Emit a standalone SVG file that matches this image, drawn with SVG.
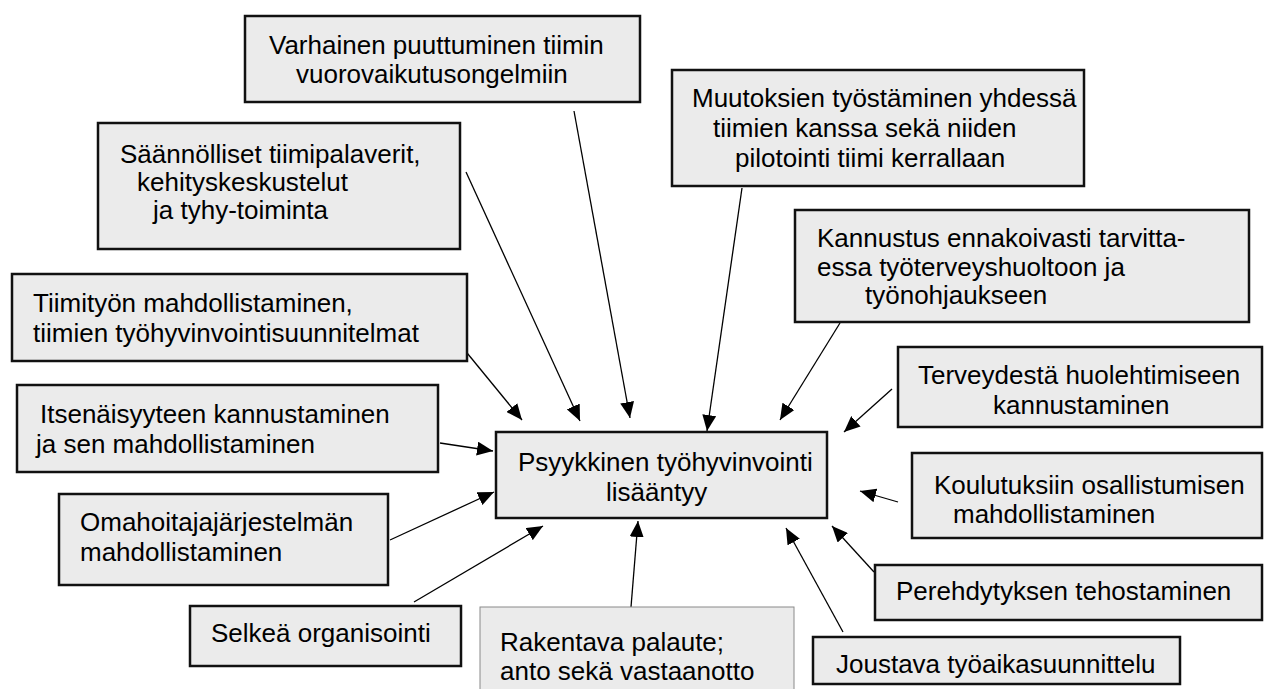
<svg xmlns="http://www.w3.org/2000/svg" width="1264" height="689" viewBox="0 0 1264 689">
  <style>
    .box { fill: #ebebeb; stroke: #111; stroke-width: 2.5; }
    .box-thin { fill: #ebebeb; stroke: #8a8a8a; stroke-width: 1; }
    .lbl { font-family: "Liberation Sans", Arial, sans-serif; font-size: 26px; fill: #000; }
    .edge { stroke: #000; stroke-width: 1.3; fill: none; marker-end: url(#head); }
  </style>
  <defs>
    <marker id="head" markerUnits="userSpaceOnUse" markerWidth="17" markerHeight="14" refX="16" refY="7" orient="auto">
      <path d="M0,0 L16,7 L0,14 z" fill="#000"/>
    </marker>
  </defs>
  <rect width="1264" height="689" fill="#fff"/>

  <!-- connectors: every factor points to the central outcome box -->
  <g id="connectors">
    <line class="edge" x1="574" y1="111" x2="630" y2="418"/>
    <line class="edge" x1="742" y1="188" x2="707" y2="431"/>
    <line class="edge" x1="466" y1="172" x2="580" y2="421"/>
    <line class="edge" x1="840" y1="323" x2="780" y2="420"/>
    <line class="edge" x1="463" y1="348" x2="522" y2="420"/>
    <line class="edge" x1="440" y1="443" x2="493" y2="451"/>
    <line class="edge" x1="892" y1="389" x2="844" y2="432"/>
    <line class="edge" x1="898" y1="502" x2="860" y2="491"/>
    <line class="edge" x1="390" y1="540" x2="494" y2="492"/>
    <line class="edge" x1="414" y1="602" x2="543" y2="526"/>
    <line class="edge" x1="631" y1="607" x2="638" y2="521"/>
    <line class="edge" x1="843" y1="632" x2="786" y2="528"/>
    <line class="edge" x1="874" y1="572" x2="832" y2="526"/>
  </g>

  <g id="n-center">
    <rect class="box" x="496" y="432" width="331" height="86"/>
    <text class="lbl" x="518" y="471">Psyykkinen työhyvinvointi</text>
    <text class="lbl" x="606" y="501">lisääntyy</text>
  </g>

  <g id="n-varhainen">
    <rect class="box" x="245" y="16" width="395" height="86"/>
    <text class="lbl" x="269" y="54">Varhainen puuttuminen tiimin</text>
    <text class="lbl" x="296" y="83">vuorovaikutusongelmiin</text>
  </g>

  <g id="n-muutoksien">
    <rect class="box" x="672" y="70" width="412" height="116"/>
    <text class="lbl" x="692" y="107">Muutoksien työstäminen yhdessä</text>
    <text class="lbl" x="713" y="137">tiimien kanssa sekä niiden</text>
    <text class="lbl" x="735" y="167">pilotointi tiimi kerrallaan</text>
  </g>

  <g id="n-saannolliset">
    <rect class="box" x="98" y="123" width="362" height="126"/>
    <text class="lbl" x="120" y="163">Säännölliset tiimipalaverit,</text>
    <text class="lbl" x="137" y="191">kehityskeskustelut</text>
    <text class="lbl" x="153" y="219">ja tyhy-toiminta</text>
  </g>

  <g id="n-kannustus">
    <rect class="box" x="795" y="210" width="454" height="112"/>
    <text class="lbl" x="817" y="247">Kannustus ennakoivasti tarvitta-</text>
    <text class="lbl" x="817" y="276">essa työterveyshuoltoon ja</text>
    <text class="lbl" x="865" y="304">työnohjaukseen</text>
  </g>

  <g id="n-tiimityon">
    <rect class="box" x="12" y="274" width="455" height="87"/>
    <text class="lbl" x="33" y="312">Tiimityön mahdollistaminen,</text>
    <text class="lbl" x="33" y="342">tiimien työhyvinvointisuunnitelmat</text>
  </g>

  <g id="n-itsenaisyys">
    <rect class="box" x="17" y="385" width="421" height="87"/>
    <text class="lbl" x="40" y="423">Itsenäisyyteen kannustaminen</text>
    <text class="lbl" x="36" y="453">ja sen mahdollistaminen</text>
  </g>

  <g id="n-terveys">
    <rect class="box" x="898" y="347" width="364" height="80"/>
    <text class="lbl" x="918" y="384">Terveydestä huolehtimiseen</text>
    <text class="lbl" x="993" y="414">kannustaminen</text>
  </g>

  <g id="n-koulutus">
    <rect class="box" x="912" y="453" width="350" height="85"/>
    <text class="lbl" x="934" y="494">Koulutuksiin osallistumisen</text>
    <text class="lbl" x="953" y="523">mahdollistaminen</text>
  </g>

  <g id="n-omahoitaja">
    <rect class="box" x="59" y="494" width="329" height="91"/>
    <text class="lbl" x="80" y="531">Omahoitajajärjestelmän</text>
    <text class="lbl" x="80" y="561">mahdollistaminen</text>
  </g>

  <g id="n-perehdytys">
    <rect class="box" x="875" y="565" width="387" height="55"/>
    <text class="lbl" x="896" y="600">Perehdytyksen tehostaminen</text>
  </g>

  <g id="n-selkea">
    <rect class="box" x="190" y="606" width="271" height="60"/>
    <text class="lbl" x="211" y="642">Selkeä organisointi</text>
  </g>

  <g id="n-rakentava">
    <rect class="box-thin" x="480" y="607" width="314" height="100"/>
    <text class="lbl" x="500" y="651">Rakentava palaute;</text>
    <text class="lbl" x="500" y="680">anto sekä vastaanotto</text>
  </g>

  <g id="n-joustava">
    <rect class="box" x="813" y="637" width="367" height="47"/>
    <text class="lbl" x="836" y="673">Joustava työaikasuunnittelu</text>
  </g>
</svg>
